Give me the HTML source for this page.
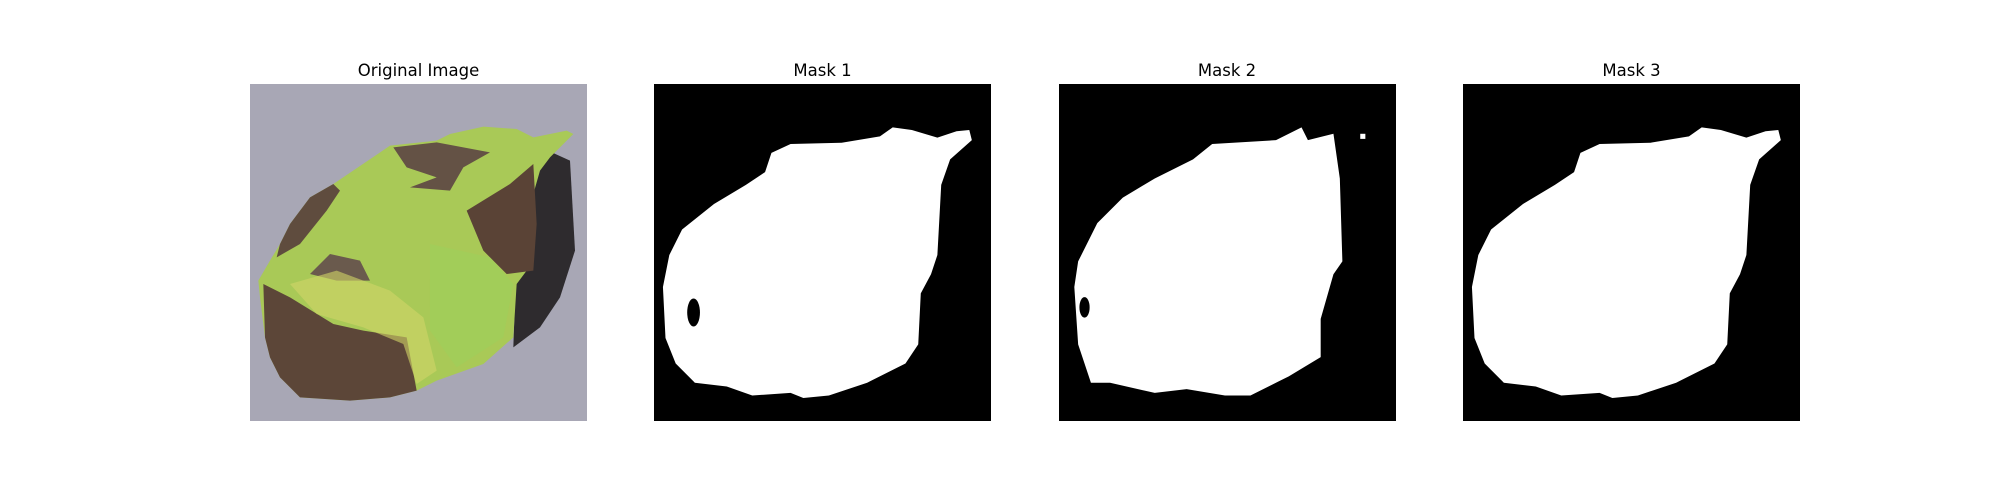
<!DOCTYPE html>
<html><head><meta charset="utf-8">
<style>
html,body{margin:0;padding:0;background:#fff;}
svg{display:block;}
text{font-family:"DejaVu Sans","Liberation Sans",sans-serif;font-size:16.5px;fill:#000;}
</style></head>
<body>
<svg width="2000" height="500" viewBox="0 0 2000 500" xmlns="http://www.w3.org/2000/svg">
  <defs>
    <path id="m1" d="M92,54 L107,47 L147,46 L177,41 L187,34 L202,36 L222,42 L237,37 L247,36 L249,44 L232,59 L225,79 L222,134 L217,149 L209,164 L207,204 L197,219 L167,234 L137,244 L117,246 L107,242 L77,244 L57,237 L32,234 L17,219 L9,199 L7,159 L12,134 L22,114 L47,94 L72,79 L87,69 Z"/>
    <path id="m2" d="M105,59 L120,47 L170,44 L190,34 L195,44 L215,39 L220,74 L222,139 L215,149 L205,184 L205,214 L180,229 L150,244 L130,244 L100,239 L75,242 L40,234 L25,234 L15,204 L12,159 L15,139 L30,109 L50,89 L75,74 Z"/>
  </defs>

  <text x="418.5" y="76" text-anchor="middle">Original Image</text>
  <text x="822.5" y="76" text-anchor="middle">Mask 1</text>
  <text x="1227" y="76" text-anchor="middle">Mask 2</text>
  <text x="1631.5" y="76" text-anchor="middle">Mask 3</text>

  <!-- Original image -->
  <g transform="translate(250,84) scale(0.33333)">
    <rect x="0" y="0" width="1011" height="1011" fill="#a8a7b5"/>
    <path d="M850,180 L960,230 L975,500 L930,640 L870,730 L790,790 L800,500 Z" fill="#2e2b2e"/>
    <path d="M250,300 L420,185 L560,170 L600,150 L700,128 L800,135 L850,160 L950,140 L970,150 L900,220 L870,260 L850,330 L830,560 L800,600 L790,760 L700,840 L560,890 L500,920 L420,940 L300,950 L150,940 L90,880 L60,820 L45,760 L30,640 L25,590 L60,530 L90,480 L120,420 L180,340 Z" fill="#a9c957"/>
    <path d="M250,300 L180,340 L120,420 L90,480 L80,520 L150,480 L230,380 L270,320 Z" fill="#5f4c3e"/>
    <path d="M430,190 L560,175 L720,205 L640,250 L600,320 L480,310 L560,280 L470,250 Z" fill="#645245"/>
    <path d="M650,380 L780,300 L850,240 L860,420 L850,560 L770,570 L700,500 Z" fill="#5a4336"/>
    <path d="M180,570 L240,510 L330,530 L360,590 L260,590 Z" fill="#6a5a4d"/>
    <path d="M40,600 L120,640 L250,720 L340,740 L470,760 L500,920 L420,940 L300,950 L150,940 L90,880 L60,820 L45,760 Z" fill="#5c4638"/>
    <path d="M120,600 L260,560 L420,620 L520,700 L560,860 L500,900 L460,780 L340,730 L200,690 Z" fill="#d2d668" opacity="0.6"/>
    <path d="M540,480 L720,520 L790,600 L760,760 L620,850 L540,740 Z" fill="#9fcf5a" opacity="0.7"/>
  </g>

  <!-- Mask 1 -->
  <g transform="translate(654,84) scale(1.2765)">
    <rect x="0" y="0" width="264" height="264" fill="#000"/>
    <use href="#m1" fill="#fff"/>
    <ellipse cx="31" cy="179" rx="5" ry="11" fill="#000"/>
  </g>

  <!-- Mask 2 -->
  <g transform="translate(1059,84) scale(1.2765)">
    <rect x="0" y="0" width="264" height="264" fill="#000"/>
    <use href="#m2" fill="#fff"/>
    <rect x="236" y="39" width="4" height="4" fill="#fff"/>
    <ellipse cx="20" cy="175" rx="4" ry="8" fill="#000"/>
  </g>

  <!-- Mask 3 -->
  <g transform="translate(1463,84) scale(1.2765)">
    <rect x="0" y="0" width="264" height="264" fill="#000"/>
    <use href="#m1" fill="#fff"/>
  </g>
</svg>
</body></html>
